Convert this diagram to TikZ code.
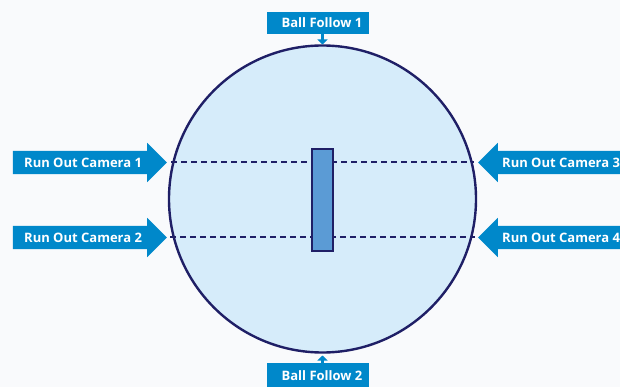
\documentclass[tikz,border=0pt]{standalone}
\usepackage{fontspec}
\setmainfont{Open Sans}
\usetikzlibrary{shapes.arrows,arrows.meta}
\definecolor{camblue}{HTML}{0088CA}
\definecolor{fieldfill}{HTML}{D6ECFA}
\definecolor{navy}{HTML}{1F1F66}
\definecolor{stumpfill}{HTML}{5B9BD5}
\definecolor{bgcol}{HTML}{F9FAFC}
\tikzset{
  camarrow/.style={single arrow, fill=camblue, draw=none,
    single arrow head extend=8pt, single arrow head indent=0pt, inner sep=0pt,
    minimum height=#1},
  camlabel/.style={text=white, font=\bfseries\fontsize{13}{15}\selectfont, inner sep=0pt, anchor=west},
  ballbox/.style={fill=camblue, minimum width=102pt, minimum height=#1, inner sep=0pt},
  balllabel/.style={text=white, font=\bfseries\fontsize{13}{15}\selectfont, inner sep=0pt},
  smallarrow/.style={camblue, line width=3pt, -{Triangle[width=10pt,length=5pt]}},
  lineofsight/.style={navy, line width=1.1pt, dash pattern=on 6pt off 4pt},
}
\newcommand{\bodyrule}{\rule{0pt}{23pt}}
\begin{document}
\begin{tikzpicture}[x=1pt,y=-1pt]
\fill[bgcol] (0,0) rectangle (620,387);
\useasboundingbox (0,0) rectangle (620,387);
% field
\node[circle, draw=navy, line width=2.4pt, fill=fieldfill, minimum size=307pt, inner sep=0pt] (field) at (322.5,199) {};
% lines of sight
\coordinate (l1) at (171,162);
\coordinate (r1) at (474,162);
\coordinate (l2) at (170,237);
\coordinate (r2) at (475,237);
\draw[lineofsight] (l1) -- (r1);
\draw[lineofsight] (l2) -- (r2);
% pitch
\node[draw=navy, line width=1.2pt, fill=stumpfill, minimum width=21pt, minimum height=102pt, inner sep=0pt] (pitch) at (322.5,200) {};
% left cameras
\node[camarrow=154pt] (cam1) at (84,162.5) {\bodyrule};
\node[camlabel] at (24,162.5) {Run Out Camera 1};
\node[camarrow=154pt] (cam2) at (84,237.5) {\bodyrule};
\node[camlabel] at (24,237.5) {Run Out Camera 2};
% right cameras
\node[camarrow=170pt, shape border rotate=180] (cam3) at (569,162.5) {\bodyrule};
\node[camlabel] at (502,162.5) {Run Out Camera 3};
\node[camarrow=170pt, shape border rotate=180] (cam4) at (569,237.5) {\bodyrule};
\node[camlabel] at (502,237.5) {Run Out Camera 4};
% ball follow
\node[ballbox=22pt] (bf1) at (318,23) {};
\node[balllabel] at (322,23) {Ball Follow 1};
\node[ballbox=24pt] (bf2) at (318,375) {};
\node[balllabel] at (322,376) {Ball Follow 2};
\coordinate (t1) at (322.5,44.5);
\coordinate (t2) at (322.5,355.5);
\draw[smallarrow] (322.5,34) -- (t1);
\draw[smallarrow] (322.5,363) -- (t2);
\end{tikzpicture}
\end{document}
